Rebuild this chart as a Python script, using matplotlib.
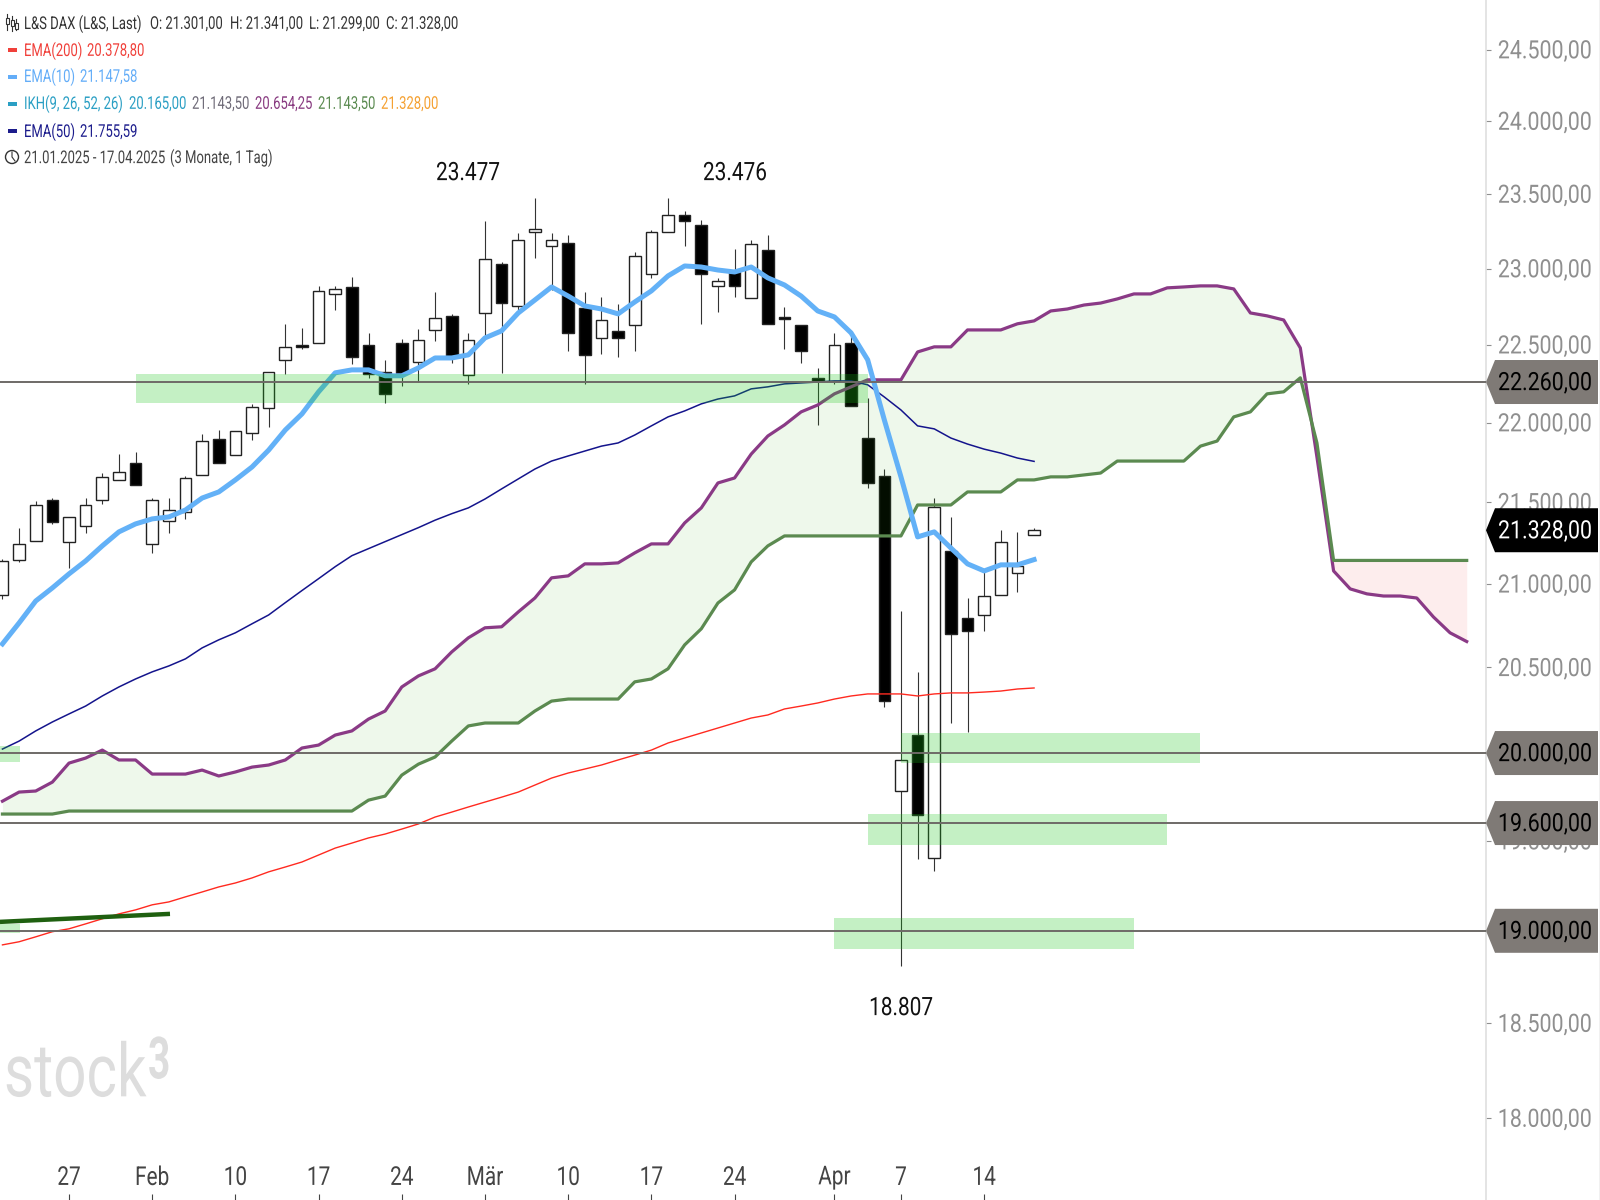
import matplotlib
matplotlib.use('Agg')
import matplotlib.pyplot as plt
from matplotlib.patches import Polygon, Circle, Rectangle
from matplotlib.patheffects import AbstractPathEffect
from matplotlib.ticker import NullLocator
from matplotlib.transforms import Affine2D
import numpy as np

plt.rcParams['font.family'] = ['Roboto', 'DejaVu Sans']

# bars run from 21 Jan (-4) to 17 Apr (58), 0 is 27 Jan
opens = [20933,21146,21262,21515,21256,21355,21515,21640,21746,21244,21385,21441,21671,21897,21796,21935,22094,22403,22500,22513,22833,
         22879,22500,22325,22513,22390,22597,22689,22306,22708,23031,22754,23245,23151,23171,22741,22545,22591,22630,22965,23245,
         23359,23292,22886,22978,22806,23124,22682,22630,22287,22267,22513,21903,21665,19782,20104,19404,21201,20795,20813,20933,21067,21301]
highs = [21152,21343,21509,21527,21410,21527,21683,21802,21815,21527,21527,21665,21929,21954,21948,22120,22325,22637,22610,22886,22886,
         22945,22578,22403,22539,22604,22846,22702,22578,23319,23045,23238,23477,23238,23225,22846,22813,22767,23111,23258,23476,
         23386,23326,22939,23131,23191,23225,22747,22630,22351,22578,22558,22158,21708,20837,20474,21527,21410,20915,21085,21330,21318,21341]
lows = [20909,21134,21262,21367,21098,21312,21490,21640,21609,21189,21312,21398,21671,21746,21796,21891,21973,22312,22474,22513,22728,
        22377,22287,22126,22235,22260,22526,22383,22248,22552,22319,22728,23071,22859,22461,22248,22441,22422,22461,22939,23245,
        23151,22637,22715,22813,22806,22637,22474,22383,21986,22248,22107,21590,20267,18807,19398,19331,20174,20122,20718,20933,20951,21299]
closes = [21140,21244,21484,21379,21410,21484,21659,21690,21609,21515,21453,21652,21884,21746,21948,22100,22325,22487,22487,22853,22866,
          22422,22312,22184,22319,22532,22676,22428,22532,23064,22773,23191,23265,23191,22578,22435,22662,22545,23084,23245,23359,
          23319,22965,22919,22886,23164,22637,22669,22461,22267,22500,22107,21621,20302,19960,19645,21472,20700,20718,20927,21256,21110,21328]

ema10 = [20640,20765,20897,20976,21061,21140,21232,21318,21367,21398,21410,21453,21527,21565,21640,21721,21827,21954,22056,22197,22319,
         22338,22338,22300,22300,22351,22415,22415,22435,22545,22591,22708,22793,22879,22819,22754,22734,22702,22780,22853,22952,
         23018,23011,22991,22978,23011,22939,22892,22819,22721,22682,22578,22403,22018,21659,21287,21318,21219,21122,21079,21116,21116,21148]
ema50 = [20023,20069,20128,20180,20227,20273,20332,20385,20432,20474,20509,20551,20616,20664,20706,20760,20813,20887,20960,21032,21105,
         21172,21215,21258,21301,21344,21390,21430,21466,21521,21584,21646,21708,21758,21790,21821,21852,21872,21922,21980,22037,
         22075,22120,22151,22171,22216,22229,22248,22254,22260,22267,22267,22242,22164,22081,21980,21961,21903,21865,21833,21808,21777,21756]
ema200 = [18923,18940,18967,18995,19011,19038,19066,19093,19115,19143,19159,19187,19214,19242,19264,19292,19326,19353,19381,19420,19459,
          19487,19516,19538,19566,19595,19634,19662,19691,19719,19747,19776,19816,19856,19885,19908,19931,19960,19988,20017,20058,
          20087,20116,20145,20174,20203,20221,20256,20273,20291,20314,20332,20344,20344,20344,20332,20344,20350,20350,20355,20361,20373,20379]

# ichimoku spans, shifted 26 bars ahead, so they run to bar 84
span_a = [19724,19776,19782,19833,19942,19971,20017,19960,19960,19879,19879,19879,19902,19868,19891,19919,19931,19960,20029,20046,20104,
          20128,20197,20244,20385,20450,20492,20592,20676,20736,20742,20831,20915,21037,21049,21122,21122,21128,21189,21244,21244,
          21373,21466,21621,21652,21802,21916,21986,22069,22113,22184,22229,22274,22274,22274,22454,22487,22487,22597,22597,22597,
          22637,22656,22721,22734,22760,22773,22800,22833,22833,22873,22879,22886,22886,22866,22708,22689,22662,22480,21783,21079,
          20970,20940,20927,20927,20915,20801,20706,20654]
span_b = [19651,19651,19651,19651,19668,19668,19668,19668,19668,19668,19668,19668,19668,19668,19668,19668,19668,19668,19668,19668,19668,19668,
          19730,19753,19873,19936,19977,20069,20157,20174,20174,20174,20244,20302,20314,20314,20314,20314,20415,20432,20492,20634,20730,20885,20964,
          21134,21232,21293,21293,21293,21293,21293,21293,21293,21293,21484,21484,21484,21565,21565,21565,21640,21640,21659,21659,21671,21683,
          21758,21758,21758,21758,21758,21852,21884,22037,22069,22184,22197,22287,21872,21143,21143,21143,21143,21143,21143,21143,21143,21143]

# support / resistance zones: first bar, last bar, upper price, lower price
zone_start = [4, 50, 48, 46, -4.15, -4.15]
zone_end = [48, 68, 66, 64, -2.94, -2.94]
zone_top = [22312, 20116, 19651, 19071, 20040, 19039]
zone_bottom = [22126, 19942, 19476, 18901, 19948, 18990]

level_prices = [22260, 20000, 19600, 19000]
level_labels = ['22.260,00', '20.000,00', '19.600,00', '19.000,00']
last_price = 21328
last_label = '21.328,00'

trend_x = [-4.15, 6.07]
trend_y = [19049, 19093]

y_ticks = [24500, 24000, 23500, 23000, 22500, 22000, 21500, 21000, 20500, 20000, 19500, 19000, 18500, 18000]
y_labels = ['24.500,00', '24.000,00', '23.500,00', '23.000,00', '22.500,00', '22.000,00', '21.500,00', '21.000,00',
            '20.500,00', '20.000,00', '19.500,00', '19.000,00', '18.500,00', '18.000,00']
x_ticks = [0, 5, 10, 15, 20, 25, 30, 35, 40, 46, 50, 55]
x_labels = ['27', 'Feb', '10', '17', '24', 'Mär', '10', '17', '24', 'Apr', '7', '14']


class TallText(AbstractPathEffect):
    # the original font is a narrow one, so stretch Roboto upward around its middle
    def __init__(self, factor):
        super().__init__()
        self.factor = factor

    def draw_path(self, renderer, gc, tpath, affine, rgbFace=None):
        m = affine.get_matrix().copy()
        ext = tpath.get_extents()
        mid = (ext.y0 + ext.y1) / 2
        m[1, 2] += m[1, 1] * (1 - self.factor) * mid
        m[1, 1] *= self.factor
        renderer.draw_path(gc, tpath, Affine2D(m), rgbFace)


bars = np.arange(-4, 59)
cloud_x = np.arange(-4, 85)
o = np.array(opens)
c = np.array(closes)
a = np.array(span_a)
b = np.array(span_b)

fig = plt.figure(figsize=(16, 12), dpi=100, facecolor='white')
ax = fig.add_axes([0, 0, 1486 / 1600, 1])
ax.set_yscale('log')
ax.set_xlim(-4.147, 85.16)
ax.set_ylim(17580, 24854)

# candles
ax.vlines(bars, lows, highs, color='#333333', lw=0.8, zorder=2)
up = c >= o
down = ~up
ax.bar(bars[up], (c - o)[up], bottom=o[up], width=0.7, color='white', edgecolor='#222222', lw=1.0, zorder=2.1)
ax.bar(bars[down], (o - c)[down], bottom=c[down], width=0.7, color='black', edgecolor='#222222', lw=1.0, zorder=2.1)

# cloud, very thin so that the candles stay visible below it
ax.fill_between(cloud_x, a, b, where=a >= b, interpolate=True, color=(0.17, 0.66, 0.0), alpha=0.08, lw=0, zorder=3)
ax.fill_between(cloud_x, a, b, where=a <= b, interpolate=True, color=(0.89, 0.05, 0.05), alpha=0.07, lw=0, zorder=3)
ax.plot(cloud_x, span_a, color='#8A3A86', lw=2.3, zorder=4)
ax.plot(cloud_x, span_b, color='#5B8A50', lw=2.3, zorder=4)

ax.plot(bars, ema200, color='#FF2A20', lw=1.0, zorder=4)
ax.plot(bars, ema50, color='#14148C', lw=1.1, zorder=4)
ax.plot(bars, ema10, color='#63B1F7', lw=3.6, zorder=5)
ax.plot(trend_x, trend_y, color='#1F6010', lw=3.2, solid_capstyle='butt', zorder=5)

for i in range(len(zone_start)):
    ax.fill_between([zone_start[i], zone_end[i]], zone_bottom[i], zone_top[i],
                    color=(0.09, 0.78, 0.09), alpha=0.25, lw=0, zorder=6)

for p in level_prices:
    ax.axhline(p, color='#6E6A67', lw=1.4, zorder=7)

for s in ['top', 'left', 'bottom']:
    ax.spines[s].set_visible(False)
ax.spines['right'].set_color('#DDDDDD')
ax.spines['right'].set_linewidth(1.1)

ax.yaxis.tick_right()
ax.yaxis.set_minor_locator(NullLocator())
ax.set_yticks(y_ticks, y_labels)
ax.tick_params(axis='y', colors='#8F8F8F', labelsize=15.4, length=3.5, width=0.8, pad=5)
ax.set_xticks(x_ticks, x_labels)
ax.tick_params(axis='x', direction='in', colors='#444444', labelsize=15, length=4, width=0.8, pad=-23)
for lab in ax.get_yticklabels():
    lab.set_path_effects([TallText(1.18)])
for lab in ax.get_xticklabels():
    lab.set_path_effects([TallText(1.25)])

# overlay in pixels of the picture for tags, legend and notes
ov = fig.add_axes([0, 0, 1, 1])
ov.set_xlim(0, 1600)
ov.set_ylim(1200, 0)
ov.axis('off')
ov.patch.set_alpha(0)


def price_to_px(price):
    return 1200 - ax.transData.transform((0, price))[1]


def tag(price, label, fc, tc):
    y = price_to_px(price)
    ov.add_patch(Polygon([(1486, y), (1495, y - 22), (1598, y - 22), (1598, y + 22), (1495, y + 22)], closed=True, fc=fc, ec='none'))
    ov.text(1498, y + 1.5, label, color=tc, fontsize=15.4, va='center', ha='left', path_effects=[TallText(1.18)])


for i in range(len(level_prices)):
    tag(level_prices[i], level_labels[i], '#7F7A76', 'black')
tag(last_price, last_label, 'black', 'white')

ov.plot([1599.5, 1599.5], [0, 1200], color='black', lw=0.8)

for x, y, txt in [(468, 173, '23.477'), (735, 173, '23.476'), (901, 1008, '18.807')]:
    ov.text(x, y, txt, color='#111111', fontsize=15, ha='center', va='center', path_effects=[TallText(1.22)])

# legend lines
dark = '#333333'
legend_rows = [
    (24, [(24, 'L&S DAX (L&S, Last)', dark), (150, 'O: 21.301,00', dark), (230, 'H: 21.341,00', dark),
          (309, 'L: 21.299,00', dark), (386, 'C: 21.328,00', dark)]),
    (51, [(24, 'EMA(200)', '#F0403A'), (87, '20.378,80', '#F0403A')]),
    (77, [(24, 'EMA(10)', '#63ADF8'), (80, '21.147,58', '#63ADF8')]),
    (104, [(24, 'IKH(9, 26, 52, 26)', '#2A9FC4'), (129, '20.165,00', '#2A9FC4'), (192, '21.143,50', '#6F6B78'),
           (255, '20.654,25', '#883A80'), (318, '21.143,50', '#5A8A50'), (381, '21.328,00', '#F5A030')]),
    (132, [(24, 'EMA(50)', '#1C1C8C'), (80, '21.755,59', '#1C1C8C')]),
    (158, [(24, '21.01.2025 - 17.04.2025', '#444444'), (170, '(3 Monate, 1 Tag)', '#444444')]),
]
for y, parts in legend_rows:
    for x, txt, col in parts:
        ov.text(x, y, txt, color=col, fontsize=9.4, va='center', ha='left', path_effects=[TallText(1.35)])

swatches = [(50, '#F0403A'), (77, '#63ADF8'), (104, '#2A9FC4'), (131, '#1C1C8C')]
for y, col in swatches:
    ov.add_patch(Rectangle((8, y - 2), 9, 4, fc=col, ec='none'))

# small candle icon and clock
for x, y0, y1 in [(7, 14, 30), (12, 16, 31), (16, 19, 30)]:
    ov.plot([x, x], [y0, y1], color=dark, lw=0.8)
    ov.add_patch(Rectangle((x - 1.5, y0 + 4), 3, 6, fc='white', ec=dark, lw=0.8, zorder=3))
ov.add_patch(Circle((12, 157), 6.5, fc='none', ec=dark, lw=1))
ov.plot([12, 12, 15], [152, 157, 161], color=dark, lw=0.8)

# watermark
ov.text(4, 1075, 'stock', color='#DDDDDD', fontsize=42, ha='left', va='center', path_effects=[TallText(1.27)])
ov.text(148, 1061, '3', color='#DDDDDD', fontsize=28, fontweight='bold', ha='left', va='center', path_effects=[TallText(1.5)])

fig.savefig('out.png', dpi=100)
